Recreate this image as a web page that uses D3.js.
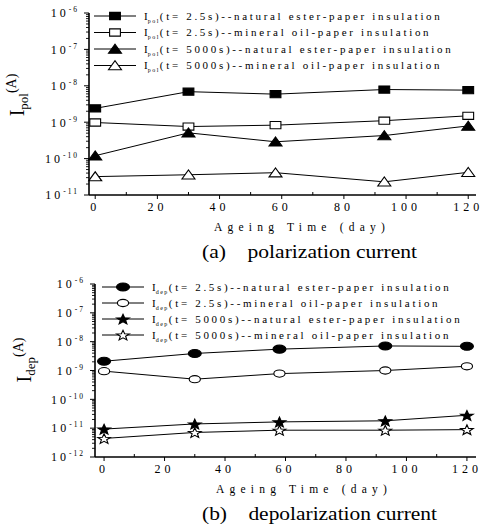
<!DOCTYPE html>
<html>
<head>
<meta charset="utf-8">
<script src="https://cdn.jsdelivr.net/npm/d3@7"></script>
<style>
  html, body { margin: 0; padding: 0; background: #fff; }
  svg { display: block; font-family: "Liberation Serif", "Times New Roman", serif; }
</style>
</head>
<body>
<svg id="chart" width="482" height="524"></svg>
<script>
// Ageing time of the samples (days)
const days = [0, 30, 58, 93, 120];

// Polarization current (A)
const polNaturalShort = [2.4e-9, 6.9e-9, 5.9e-9, 7.9e-9, 7.6e-9];
const polMineralShort = [9.8e-10, 7.6e-10, 8.3e-10, 1.1e-9, 1.5e-9];
const polNaturalLong  = [1.2e-10, 5.1e-10, 2.9e-10, 4.3e-10, 7.9e-10];
const polMineralLong  = [3.2e-11, 3.6e-11, 4.1e-11, 2.3e-11, 4.2e-11];

// Depolarization current (A)
const depNaturalShort = [2.1e-9, 3.9e-9, 5.5e-9, 7.1e-9, 6.9e-9];
const depMineralShort = [9.5e-10, 5.0e-10, 7.8e-10, 1.0e-9, 1.4e-9];
const depNaturalLong  = [9.3e-12, 1.4e-11, 1.65e-11, 1.8e-11, 2.8e-11];
const depMineralLong  = [4.4e-12, 7.1e-12, 8.5e-12, 8.5e-12, 8.9e-12];

// Legend texts
const legendTimes = ["(t= 2.5s)", "(t= 2.5s)", "(t= 5000s)", "(t= 5000s)"];
const legendInsulation = [
  "--natural ester-paper insulation",
  "--mineral oil-paper insulation",
  "--natural ester-paper insulation",
  "--mineral oil-paper insulation"
];

// Axis ticks
const xTickDays = [0, 20, 40, 60, 80, 100, 120];
const xMinorDays = [10, 30, 50, 70, 90, 110];
const xTitle = "Ageing Time (day)";

const svg = d3.select("#chart");

// Marker shapes, drawn around (0,0)
function markerPath(kind) {
  if (kind === "square") return "M-5.4,-3.6H5.4V3.6H-5.4Z";
  if (kind === "triangle") return "M-6.5,4.2L6.5,4.2L0,-4.8Z";
  if (kind === "star") {
    const pts = [];
    for (let i = 0; i < 10; i++) {
      const a = -Math.PI / 2 + i * Math.PI / 5;
      const r = i % 2 === 0 ? 1 : 0.42;
      pts.push([Math.cos(a) * r * 6.6, Math.sin(a) * r * 5.4 + 0.6]);
    }
    return "M" + pts.map(p => p.join(",")).join("L") + "Z";
  }
  return null;
}

function drawMarker(g, kind, filled, x, y) {
  const fill = filled ? "#000" : "#fff";
  if (kind === "ellipse") {
    g.append("ellipse")
      .attr("cx", x).attr("cy", y)
      .attr("rx", filled ? 6.5 : 5.6).attr("ry", filled ? 4 : 3.6)
      .attr("fill", fill).attr("stroke", "#000").attr("stroke-width", 1.1);
  } else {
    g.append("path")
      .attr("d", markerPath(kind))
      .attr("transform", `translate(${x},${y})`)
      .attr("fill", fill).attr("stroke", "#000").attr("stroke-width", 1.1)
      .attr("stroke-linejoin", "miter");
  }
}

function drawPanel(p) {
  const g = svg.append("g");
  const x = d3.scaleLinear().domain(p.xDomain).range(p.xRange);
  const y = d3.scaleLog().domain(p.yDomain).range(p.yRange);
  const x0 = p.xRange[0], yB = p.yRange[0], yT = p.yRange[1];

  // y axis: decade labels, minor ticks at 2..9
  const expLo = Math.round(Math.log10(p.yDomain[0]));
  const expHi = Math.round(Math.log10(p.yDomain[1]));
  for (let e = expLo; e <= expHi; e++) {
    const yy = y(Math.pow(10, e));
    g.append("line").attr("x1", x0 - 5).attr("x2", x0).attr("y1", yy).attr("y2", yy)
      .attr("stroke", "#000").attr("stroke-width", 1);
    const t = g.append("text").attr("x", x0 - 10).attr("y", yy).attr("dy", "0.36em")
      .attr("text-anchor", "end").attr("font-size", 12).attr("fill", "#000");
    t.append("tspan").attr("letter-spacing", 3).text("10");
    t.append("tspan").attr("font-size", 7.5).attr("dy", -5).attr("letter-spacing", 2)
      .text("-" + Math.abs(e));
    if (e < expHi) {
      for (let m = 2; m <= 9; m++) {
        const ym = y(m * Math.pow(10, e));
        g.append("line").attr("x1", x0 - 3).attr("x2", x0).attr("y1", ym).attr("y2", ym)
          .attr("stroke", "#000").attr("stroke-width", 0.9);
      }
    }
  }
  g.append("line").attr("x1", x0).attr("x2", x0).attr("y1", yT).attr("y2", yB)
    .attr("stroke", "#000").attr("stroke-width", 1.6);

  // x axis
  g.append("line").attr("x1", x0).attr("x2", p.xRange[1]).attr("y1", yB).attr("y2", yB)
    .attr("stroke", "#000").attr("stroke-width", 1.6);
  xTickDays.forEach(d => {
    g.append("line").attr("x1", x(d)).attr("x2", x(d)).attr("y1", yB).attr("y2", yB + 4)
      .attr("stroke", "#000").attr("stroke-width", 1);
    g.append("text").attr("x", x(d)).attr("y", yB + 16)
      .attr("text-anchor", "middle").attr("font-size", 12).attr("letter-spacing", 4)
      .attr("fill", "#000").text(d);
  });
  xMinorDays.forEach(d => {
    g.append("line").attr("x1", x(d)).attr("x2", x(d)).attr("y1", yB).attr("y2", yB - 3)
      .attr("stroke", "#000").attr("stroke-width", 1);
  });
  g.append("text").attr("x", p.xTitleX).attr("y", yB + 36)
    .attr("text-anchor", "middle").attr("font-size", 11.5).attr("letter-spacing", 5.2)
    .attr("fill", "#000").text(xTitle);

  // y axis title
  const yt = g.append("text")
    .attr("transform", `translate(${p.yTitleX},${p.yTitleY}) rotate(-90)`)
    .attr("text-anchor", "middle").attr("fill", "#000");
  yt.append("tspan").attr("font-size", 20).text("I");
  yt.append("tspan").attr("font-size", 13).attr("dy", 4).text(p.sub);
  yt.append("tspan").attr("font-size", 14).attr("dy", -12).text("(A)");

  // caption
  g.append("text").attr("x", 202).attr("y", yB + 63).attr("font-size", 19)
    .attr("textLength", p.captionWidth).attr("lengthAdjust", "spacingAndGlyphs")
    .attr("fill", "#000").attr("xml:space", "preserve").text(p.caption);

  // series lines and markers
  const line = d3.line().x((d, i) => x(days[i])).y(d => y(d));
  p.series.forEach(s => {
    g.append("path").attr("d", line(s.values)).attr("fill", "none")
      .attr("stroke", "#000").attr("stroke-width", 1);
    s.values.forEach((v, i) => drawMarker(g, s.kind, s.filled, x(days[i]), y(v)));
  });

  // legend
  p.series.forEach((s, i) => {
    const ly = p.legendY[i];
    g.append("line").attr("x1", p.legendX).attr("x2", p.legendX + 42)
      .attr("y1", ly).attr("y2", ly).attr("stroke", "#000").attr("stroke-width", 1);
    drawMarker(g, s.kind, s.filled, p.legendX + 21, ly);
    const t = g.append("text").attr("x", p.legendX + 50).attr("y", ly).attr("dy", "0.36em")
      .attr("font-size", 11).attr("fill", "#000");
    t.append("tspan").text("I");
    t.append("tspan").attr("font-size", 6).attr("dy", 3).attr("letter-spacing", 1.5).text(p.sub);
    t.append("tspan").attr("dy", -3).attr("letter-spacing", 2.68)
      .text(legendTimes[i] + legendInsulation[i]);
  });
}

drawPanel({
  xDomain: [-2, 122.5], xRange: [89, 476],
  yDomain: [1e-11, 1e-6], yRange: [195, 13],
  sub: "pol", caption: "(a)    polarization current", captionWidth: 215,
  yTitleX: 24, yTitleY: 95, xTitleX: 302,
  legendX: 94, legendY: [16, 32.5, 49, 65.5],
  series: [
    { values: polNaturalShort, kind: "square", filled: true },
    { values: polMineralShort, kind: "square", filled: false },
    { values: polNaturalLong, kind: "triangle", filled: true },
    { values: polMineralLong, kind: "triangle", filled: false }
  ]
});

drawPanel({
  xDomain: [-3, 123], xRange: [95, 476],
  yDomain: [1e-12, 1e-6], yRange: [457, 284],
  sub: "dep", caption: "(b)    depolarization current", captionWidth: 235,
  yTitleX: 31, yTitleY: 360, xTitleX: 304,
  legendX: 102, legendY: [287, 303, 319, 335],
  series: [
    { values: depNaturalShort, kind: "ellipse", filled: true },
    { values: depMineralShort, kind: "ellipse", filled: false },
    { values: depNaturalLong, kind: "star", filled: true },
    { values: depMineralLong, kind: "star", filled: false }
  ]
});
</script>
</body>
</html>
